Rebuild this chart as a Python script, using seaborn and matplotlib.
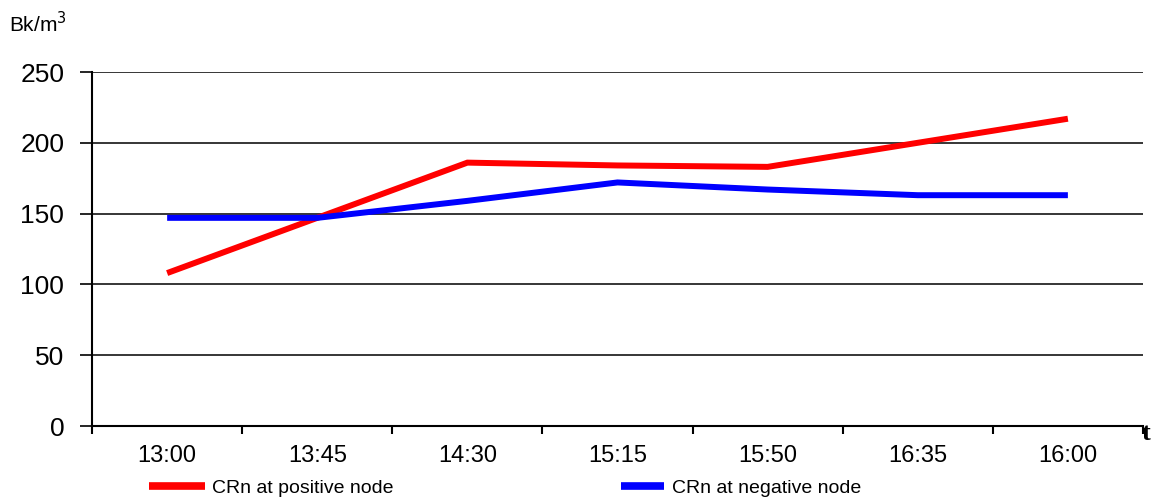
import matplotlib
matplotlib.use("Agg")
import matplotlib.pyplot as plt
import seaborn as sns
import pandas as pd
import numpy as np
from matplotlib.ticker import FixedLocator

times = ["13:00", "13:45", "14:30", "15:15", "15:50", "16:35", "16:00"]
positive = [108, 147, 186, 184, 183, 200, 217]
negative = [147, 147, 159, 172, 167, 163, 163]
series_names = ["CRn at positive node", "CRn at negative node"]
colors = ["#ff0000", "#0000ff"]
yticks = [0, 50, 100, 150, 200, 250]

sns.set_theme(style="white")
plt.rcParams["font.family"] = ["Liberation Sans", "DejaVu Sans"]

df = pd.DataFrame({
    "t": times * 2,
    "v": positive + negative,
    "s": [series_names[0]] * len(times) + [series_names[1]] * len(times),
})

fig = plt.figure(figsize=(11.51, 5.0), dpi=100)
ax = fig.add_axes([0.080, 0.148, 0.913, 0.708])

sns.lineplot(data=df, x="t", y="v", hue="s", palette=colors,
             linewidth=4.3, sort=False, ax=ax, legend=False)
for ln in ax.get_lines():
    ln.set_solid_capstyle("butt")
    ln.set_solid_joinstyle("miter")

ax.set_xlim(-0.5, len(times) - 0.5)
ax.set_ylim(0, 250)
ax.set_yticks(yticks)
ax.set_yticklabels([str(v) for v in yticks], fontsize=19)
ax.set_xticks(range(len(times)))
ax.set_xticklabels(times, fontsize=17)
ax.xaxis.set_minor_locator(FixedLocator(np.arange(-0.5, len(times), 1.0)))
ax.tick_params(axis="x", which="major", length=0, pad=14, labelcolor="black")
ax.tick_params(axis="x", which="minor", length=6, width=1.5, color="black", direction="out", bottom=True)
ax.tick_params(axis="y", which="major", length=9, width=1.2, color="black", direction="out",
               left=True, pad=11, labelcolor="black")
ax.set_xlabel("")
ax.set_ylabel("")

for y in yticks[1:]:
    ax.axhline(y, color="black", linewidth=1.1, zorder=0)

for side in ["top", "right"]:
    ax.spines[side].set_visible(False)
for side in ["left", "bottom"]:
    ax.spines[side].set_color("black")
    ax.spines[side].set_linewidth(1.5)

fig.text(0.008, 0.953, "Bk/m$^3$", fontsize=15, ha="left", va="center", color="black")
fig.text(0.9955, 0.134, "t", fontsize=19, fontweight="bold", family="Liberation Serif",
         ha="center", va="center", color="black")

h_red = plt.Line2D([], [], color=colors[0], linewidth=5.5, solid_capstyle="butt")
h_blue = plt.Line2D([], [], color=colors[1], linewidth=5.5, solid_capstyle="butt")
leg1 = fig.legend([h_red], [series_names[0]], loc="center left",
                  bbox_to_anchor=(149 / 1151, 0.024), frameon=False, fontsize=14,
                  handlelength=2.9, handletextpad=0.36, borderaxespad=0, borderpad=0)
leg2 = fig.legend([h_blue], [series_names[1]], loc="center left",
                  bbox_to_anchor=(621 / 1151, 0.024), frameon=False, fontsize=14,
                  handlelength=2.2, handletextpad=0.4, borderaxespad=0, borderpad=0)
for lg in (leg1, leg2):
    for t in lg.get_texts():
        t.set_color("black")

fig.savefig("out.png", dpi=100)
